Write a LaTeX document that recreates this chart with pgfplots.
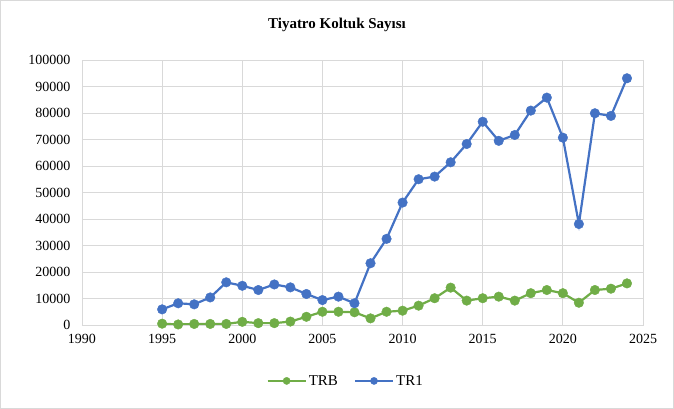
\documentclass[border=0pt]{standalone}
\usepackage{fontspec}
\setmainfont{Liberation Serif}
\usepackage{pgfplots}
\pgfplotsset{compat=1.18}
\definecolor{trb}{HTML}{70AD47}
\definecolor{tra}{HTML}{4472C4}
\definecolor{gridc}{HTML}{D9D9D9}
\begin{document}
\begin{tikzpicture}[x=1pt,y=1pt]
\draw[gridc, line width=1pt] (0.5,0.5) rectangle (673.5,408.5);
\node[font=\bfseries\fontsize{15}{17}\selectfont] at (337,384) {Tiyatro Koltuk Sayısı};
\begin{axis}[
  at={(82pt,84pt)}, anchor=south west,
  width=561pt, height=265pt, scale only axis,
  xmin=1990, xmax=2025, ymin=0, ymax=100000,
  xtick={1990,1995,...,2025}, ytick={0,10000,...,100000},
  grid=major, grid style={gridc, line width=0.9pt},
  axis line style={gridc, line width=0.9pt},
  major tick length=0pt,
  tick label style={font=\fontsize{14}{16}\selectfont},
  scaled y ticks=false,
  xticklabel={\pgfmathtruncatemacro{\tk}{\tick}\tk},
  yticklabel={\pgfmathtruncatemacro{\tk}{\tick}\tk},
  xticklabel style={yshift=-6pt},
  yticklabel style={xshift=-8pt},
  legend style={at={(0.47,-0.211)}, anchor=center, draw=none, legend columns=2,
    font=\fontsize{15}{17}\selectfont, /tikz/every even column/.append style={column sep=14pt}},
  legend cell align=left,
  legend image code/.code={\draw[mark repeat=2,mark phase=2,mark size=3.6pt,#1] plot coordinates {(0pt,0pt)(19pt,0pt)(38pt,0pt)};},
]
\addplot[color=trb, line width=2.2pt, mark=*, mark size=4.8pt, mark options={solid, fill=trb, draw=trb, line width=0.4pt}] coordinates {
(1995,500)(1996,200)(1997,400)(1998,400)(1999,400)(2000,1200)(2001,700)(2002,700)(2003,1300)
(2004,3100)(2005,5000)(2006,5000)(2007,4800)(2008,2500)(2009,5000)(2010,5400)(2011,7300)
(2012,10100)(2013,14100)(2014,9200)(2015,10100)(2016,10700)(2017,9200)(2018,12000)(2019,13200)
(2020,12000)(2021,8400)(2022,13200)(2023,13700)(2024,15700)};
\addlegendentry{TRB}
\addplot[color=tra, line width=2.2pt, mark=*, mark size=4.8pt, mark options={solid, fill=tra, draw=tra, line width=0.4pt}] coordinates {
(1995,5900)(1996,8200)(1997,7800)(1998,10400)(1999,16100)(2000,14800)(2001,13200)(2002,15300)
(2003,14200)(2004,11700)(2005,9400)(2006,10700)(2007,8200)(2008,23300)(2009,32500)(2010,46200)
(2011,55000)(2012,56000)(2013,61400)(2014,68300)(2015,76700)(2016,69500)(2017,71700)(2018,80900)
(2019,85800)(2020,70700)(2021,38100)(2022,79900)(2023,78900)(2024,93100)};
\addlegendentry{TR1}
\end{axis}
\end{tikzpicture}
\end{document}
